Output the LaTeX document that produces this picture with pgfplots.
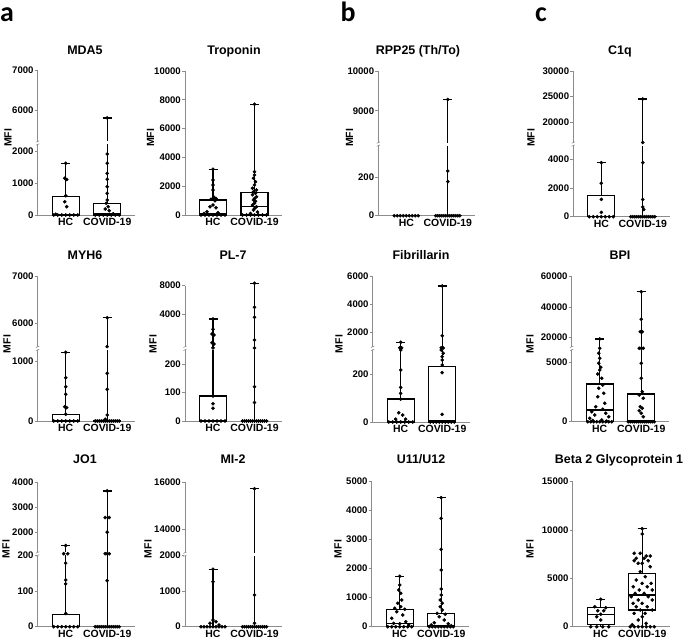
\documentclass[border=0pt]{standalone}
\usepackage{fontspec}
\setmainfont{Liberation Sans}
\newfontfamily\letterfont{Carlito}
\usepackage{pgfplots}
\pgfplotsset{compat=1.18}
\definecolor{axc}{gray}{0.55}

\def\pa{1}\def\pL{1}\def\pU{1}\def\pb{0}
\def\T{min(\thisrow{v},\pL)*\pa+max(\thisrow{v}-\pU,0)*\pb}

\pgfplotsset{
 panel/.style={x=1bp,y=1bp,xmin=0,xmax=97,ymin=0,
  axis x line=bottom, axis y line=left,
  axis line style={axc, line width=0.8bp, -},
  clip=false, anchor=south west,
  xtick={28,69.5}, xticklabels={HC,COVID-19},
  xtick style={draw=none},
  ytick style={axc, line width=0.8bp},
  tick align=outside, major tick length=3bp,
  yticklabel style={font=\bfseries\fontsize{9.6}{10}\selectfont, inner sep=1bp},
  xticklabel style={font=\bfseries\fontsize{10.5}{11}\selectfont, inner sep=1bp, yshift=1bp},
  scaled y ticks=false},
 bxl/.style={black, line width=1.3bp, mark=none, line join=miter},
}
\newcommand\seg[5]{\addplot[bxl] table[row sep=\\, x expr=\thisrow{x}+#1, y expr=\T] {x v\\ #2 #3\\ #4 #5\\};}
\newcommand\bx[6]{%
 \addplot[bxl] table[row sep=\\, x expr=\thisrow{x}+#1, y expr=\T] {x v\\ -13.5 #2\\ 13.5 #2\\ 13.5 #4\\ -13.5 #4\\ -13.5 #2\\ 13.5 #2\\};
 \seg{#1}{-13.5}{#3}{13.5}{#3}
 \seg{#1}{0}{#4}{0}{#6}
 \seg{#1}{-4.5}{#6}{4.5}{#6}
 \seg{#1}{0}{#5}{0}{#2}
}
\newcommand\pts[2]{\addplot[only marks, mark=*, mark size=1.6bp, black] table[row sep=\\, x expr=\thisrow{x}+#1, y expr=\T] {x v\\ #2};}
\newcommand\brk[1]{%
 \draw[white, line width=2.5bp] ([yshift=-1.4bp]axis cs:0,#1) -- ([yshift=1.4bp]axis cs:0,#1);
 \draw[axc, line width=0.6bp] ([xshift=-1.6bp,yshift=-2.2bp]axis cs:0,#1) -- ([xshift=1.6bp,yshift=-0.8bp]axis cs:0,#1)
   ([xshift=-1.6bp,yshift=0.8bp]axis cs:0,#1) -- ([xshift=1.6bp,yshift=2.2bp]axis cs:0,#1);}
\newcommand\wg[2]{\draw[white, line width=2.5bp] ([yshift=-1.5bp]axis cs:#1,#2) -- ([yshift=1.5bp]axis cs:#1,#2);}

\begin{document}
\begin{tikzpicture}
\path[use as bounding box] (0,0) rectangle (685bp,639bp);

% ---------------- MDA5
\def\pa{0.032}\def\pL{2250}\def\pU{5190}\def\pb{0.04}
\begin{axis}[panel, at={(37.7bp,424bp)}, ymax=144.4, ytick={0,32,64,104.4,144.4}, yticklabels={0,1000,2000,6000,7000}]
\bx{28}{0}{0}{572}{0}{1615}
\bx{69.5}{0}{30}{365}{0}{5817}
\brk{72}\wg{69.5}{72}
\pts{28}{0 1615\\ -1 1150\\ 1 1110\\ 0 600\\ -1 415\\ 1 260\\ -12 0\\ -8 0\\ -4 0\\ 0 0\\ 4 0\\ 8 0\\ 12 0\\ -10 25\\}
\pts{69.5}{0 5817\\ 0 1906\\ 0 1615\\ 0 1302\\ 0 1115\\ 0 885\\ 0 677\\ 0 469\\ -1 365\\ 1 260\\ -2 188\\ 2 135\\ -12 0\\ -8 0\\ -4 0\\ 0 0\\ 4 0\\ 8 0\\ 12 0\\ 6 40\\}
\end{axis}

% ---------------- Troponin
\def\pa{0.0144}\def\pL{1000000}\def\pU{1000000}\def\pb{0}
\begin{axis}[panel, at={(185bp,424bp)}, ymax=144, ytick={0,28.8,57.6,86.4,115.2,144}, yticklabels={0,2000,4000,6000,8000,10000}]
\bx{28}{0}{60}{1040}{0}{3170}
\bx{69.5}{0}{580}{1550}{0}{7690}
\pts{28}{0 3170\\ 0 2430\\ 0 2083\\ 0 1736\\ 1 1227\\ 3 1150\\ -2 1088\\ 2 995\\ 0 694\\ -3 579\\ 3 500\\ -6 231\\ 5 150\\ -9 100\\ -12 0\\ -8 0\\ -4 0\\ 0 0\\ 4 0\\ 8 0\\ 12 0\\}
\pts{69.5}{0 7690\\ 0 3009\\ 0 2778\\ -1 2546\\ 1 2315\\ 0 2083\\ -2 1852\\ 2 1736\\ -1 1620\\ 1 1505\\ -2 1400\\ 2 1273\\ 0 1150\\ -1 1042\\ 1 950\\ 0 810\\ -2 700\\ 2 579\\ 0 450\\ -1 347\\ 3 200\\ -4 100\\ -12 0\\ -8 0\\ -4 0\\ 0 0\\ 4 0\\ 8 0\\ 12 0\\}
\end{axis}

% ---------------- RPP25
\def\pa{0.1935}\def\pL{370}\def\pU{8160}\def\pb{0.0397}
\begin{axis}[panel, at={(378.3bp,423.3bp)}, ymax=144.6, ytick={0,38.7,104.9,144.6}, yticklabels={0,200,9000,10000}]
\bx{28}{0}{0}{0}{0}{0}
\bx{69.5}{0}{0}{0}{0}{9285}
\brk{71.6}\wg{69.5}{71.6}
\pts{28}{-12 0\\ -9 0\\ -6 0\\ -3 0\\ 0 0\\ 3 0\\ 6 0\\ 9 0\\ 12 0\\}
\pts{69.5}{0 9285\\ 0 231\\ 0 176\\ -12 0\\ -10 0\\ -8 0\\ -6 0\\ -4 0\\ -2 0\\ 0 0\\ 2 0\\ 4 0\\ 6 0\\ 8 0\\ 10 0\\ 12 0\\}
\end{axis}

% ---------------- C1q
\def\pa{0.01433}\def\pL{5070}\def\pU{15690}\def\pb{0.0051}
\begin{axis}[panel, at={(573.3bp,422.3bp)}, ymax=145.6, ytick={0,28.7,57.3,94.6,120.1,145.6}, yticklabels={0,2000,4000,20000,25000,30000}]
\bx{28}{0}{0}{1465}{0}{3770}
\bx{69.5}{0}{0}{30}{0}{24510}
\brk{72.65}\wg{69.5}{72.65}
\pts{28}{0 3770\\ 0 2330\\ 0 1210\\ 0 300\\ -12 0\\ -8 0\\ -4 0\\ 0 0\\ 4 0\\ 8 0\\ 12 0\\}
\pts{69.5}{0 24510\\ 0 16000\\ 0 3770\\ 0 1200\\ 0 680\\ 1 500\\ -12 0\\ -10 0\\ -8 0\\ -6 0\\ -4 0\\ -2 0\\ 0 0\\ 2 0\\ 4 0\\ 6 0\\ 8 0\\ 10 0\\ 12 0\\}
\end{axis}

% ---------------- MYH6
\def\pa{0.0593}\def\pL{1226}\def\pU{5464}\def\pb{0.0466}
\begin{axis}[panel, at={(37.7bp,218bp)}, ymax=144.3, ytick={0,59.3,97.7,144.3}, yticklabels={0,1000,6000,7000}]
\bx{28}{0}{0}{113}{0}{1158}
\bx{69.5}{0}{0}{10}{0}{6120}
\brk{72.7}\wg{69.5}{72.7}
\pts{28}{0 1158\\ 0 730\\ 0 578\\ 0 450\\ -1 241\\ 1 225\\ 0 113\\ -12 0\\ -8 0\\ -4 0\\ 0 0\\ 4 0\\ 8 0\\ 12 0\\}
\pts{69.5}{0 6120\\ 0 5500\\ 0 804\\ 0 534\\ 0 100\\ -2 30\\ -12 0\\ -10 0\\ -8 0\\ -6 0\\ -4 0\\ -2 0\\ 0 0\\ 2 0\\ 4 0\\ 6 0\\ 8 0\\ 10 0\\ 12 0\\}
\end{axis}

% ---------------- PL-7
\def\pa{0.283}\def\pL{257}\def\pU{257}\def\pb{0.009147}
\begin{axis}[panel, at={(185bp,218bp)}, ymax=135.3, ytick={0,28.3,56.6,107,135.3}, yticklabels={0,100,200,4000,8000}]
\bx{28}{0}{0}{88}{0}{3460}
\bx{69.5}{0}{0}{0}{0}{7363}
\brk{72.7}\wg{28}{72.7}\wg{69.5}{72.7}
\pts{28}{0 3460\\ 0 2334\\ -1 1820\\ 1 1700\\ -1 869\\ 1 727\\ 0 300\\ 0 88\\ 0 61\\ 0 45\\ -12 0\\ -8 0\\ -4 0\\ 0 0\\ 4 0\\ 8 0\\ 12 0\\}
\pts{69.5}{0 7363\\ 0 4739\\ 0 3646\\ 0 1164\\ 0 280\\ 0 121\\ 0 65\\ -12 0\\ -10 0\\ -8 0\\ -6 0\\ -4 0\\ -2 0\\ 0 0\\ 2 0\\ 4 0\\ 6 0\\ 8 0\\ 10 0\\ 12 0\\}
\end{axis}

% ---------------- Fibrillarin
\def\pa{0.2385}\def\pL{309}\def\pU{849}\def\pb{0.0139}
\begin{axis}[panel, at={(372.7bp,217bp)}, ymax=145.3, ytick={0,47.7,89.7,117.5,145.3}, yticklabels={0,200,2000,4000,6000}]
\bx{28}{0}{0}{96}{0}{1281}
\bx{69.5}{0}{4}{232}{0}{5331}
\brk{73.7}\wg{28}{73.7}\wg{69.5}{73.7}
\pts{28}{0 1281\\ -1 892\\ 1 880\\ 0 302\\ 0 218\\ 0 145\\ 0 120\\ 0 96\\ -2 39\\ 2 29\\ -5 12\\ 5 12\\ -12 0\\ -8 0\\ -4 0\\ 0 0\\ 4 0\\ 8 0\\ 12 0\\}
\pts{69.5}{0 5331\\ 0 1755\\ -1 892\\ 1 870\\ -1 302\\ 1 288\\ 0 274\\ 0 260\\ 0 239\\ 0 207\\ 0 32\\ -12 0\\ -9 0\\ -6 0\\ -3 0\\ 0 0\\ 3 0\\ 6 0\\ 9 0\\ 12 0\\}
\end{axis}

% ---------------- BPI
\def\pa{0.01188}\def\pL{6178}\def\pU{12739}\def\pb{0.001515}
\begin{axis}[panel, at={(571.7bp,217.3bp)}, ymax=145, ytick={0,59.4,84.4,114.7,145}, yticklabels={0,5000,20000,40000,60000}]
\bx{28}{0}{985}{3173}{0}{18878}
\bx{69.5}{0}{100}{2332}{0}{50099}
\brk{73.4}\wg{28}{73.4}\wg{69.5}{73.4}
\pts{28}{0 18878\\ 0 12800\\ -1 5758\\ 0 5337\\ -1 4916\\ 1 4579\\ 0 4352\\ -2 4015\\ 2 3653\\ 3 3089\\ -1 2811\\ 4 2391\\ -2 2104\\ 5 1549\\ -4 1263\\ 3 1044\\ -8 842\\ 6 707\\ -5 564\\ 9 421\\ -10 286\\ 2 143\\ -7 100\\ 7 50\\ -12 0\\ -9 0\\ -6 0\\ -3 0\\ 0 0\\ 3 0\\ 6 0\\ 9 0\\ 12 0\\}
\pts{69.5}{0 50099\\ 0 31900\\ -1 23700\\ 1 23700\\ -2 12800\\ 0 12800\\ 2 12800\\ 0 4916\\ 0 3653\\ 1 2525\\ -2 2247\\ 2 1970\\ -1 1263\\ 1 1128\\ -2 926\\ 0 707\\ 2 421\\ -13 0\\ -11 0\\ -9 0\\ -7 0\\ -5 0\\ -3 0\\ -1 0\\ 1 0\\ 3 0\\ 5 0\\ 7 0\\ 9 0\\ 11 0\\ 13 0\\}
\end{axis}

% ---------------- JO1
\def\pa{0.357}\def\pL{204}\def\pU{1132}\def\pb{0.025}
\begin{axis}[panel, at={(37.7bp,12.3bp)}, ymax=144.5, ytick={0,35.7,71.4,94.5,119.5,144.5}, yticklabels={0,100,200,2000,3000,4000}]
\bx{28}{0}{0}{35}{0}{1464}
\bx{69.5}{0}{0}{0}{0}{3652}
\brk{72.8}\wg{28}{72.8}\wg{69.5}{72.8}
\pts{28}{0 1464\\ -2 1140\\ 2 1135\\ 0 178\\ 0 131\\ 0 120\\ 0 37\\ -12 0\\ -8 0\\ -4 0\\ 0 0\\ 4 0\\ 8 0\\ 12 0\\}
\pts{69.5}{0 3652\\ -2 2584\\ 2 2584\\ 0 2000\\ -2 1140\\ 0 1140\\ 2 1135\\ 0 129\\ -12 0\\ -10 0\\ -8 0\\ -6 0\\ -4 0\\ -2 0\\ 0 0\\ 2 0\\ 4 0\\ 6 0\\ 8 0\\ 10 0\\ 12 0\\}
\end{axis}

% ---------------- MI-2
\def\pa{0.0357}\def\pL{2030}\def\pU{12900}\def\pb{0.0235}
\begin{axis}[panel, at={(185bp,12.3bp)}, ymax=144.3, ytick={0,35.7,71.4,97.4,144.3}, yticklabels={0,1000,2000,14000,16000}]
\bx{28}{0}{0}{10}{0}{1608}
\bx{69.5}{0}{0}{0}{0}{15687}
\brk{72.5}\wg{69.5}{72.5}
\pts{28}{0 1608\\ 0 1260\\ 0 188\\ 3 140\\ -3 95\\ 6 50\\ -12 0\\ -9 0\\ -6 0\\ -3 0\\ 0 0\\ 3 0\\ 6 0\\ 9 0\\ 12 0\\}
\pts{69.5}{0 15687\\ 0 888\\ 0 95\\ -12 0\\ -10 0\\ -8 0\\ -6 0\\ -4 0\\ -2 0\\ 0 0\\ 2 0\\ 4 0\\ 6 0\\ 8 0\\ 10 0\\ 12 0\\}
\end{axis}

% ---------------- U11/U12
\def\pa{0.029}\def\pL{1000000}\def\pU{1000000}\def\pb{0}
\begin{axis}[panel, at={(371.7bp,12.3bp)}, ymax=145, ytick={0,29,58,87,116,145}, yticklabels={0,1000,2000,3000,4000,5000}]
\bx{28}{0}{100}{600}{0}{1738}
\bx{69.5}{0}{50}{460}{0}{4450}
\pts{28}{0 1738\\ 0 1437\\ -1 1264\\ 1 1152\\ 2 920\\ -2 807\\ 1 690\\ -5 635\\ 5 600\\ -3 517\\ 3 402\\ -8 289\\ 6 172\\ -6 115\\ 9 57\\ 0 100\\ -12 0\\ -8 0\\ -4 0\\ 0 0\\ 4 0\\ 8 0\\ 12 0\\}
\pts{69.5}{0 4450\\ 0 3736\\ 0 2667\\ 0 1954\\ 0 1299\\ 0 1092\\ -1 920\\ 1 807\\ -1 690\\ 1 575\\ -4 460\\ 4 430\\ -2 345\\ 3 230\\ -7 138\\ 7 100\\ -10 57\\ 10 30\\ -12 0\\ -9 0\\ -6 0\\ -3 0\\ 0 0\\ 3 0\\ 6 0\\ 9 0\\ 12 0\\}
\end{axis}

% ---------------- Beta 2 Glycoprotein 1
\def\pa{0.00967}\def\pL{1000000}\def\pU{1000000}\def\pb{0}
\begin{axis}[panel, at={(572.7bp,12.3bp)}, ymax=145, ytick={0,48.35,96.7,145}, yticklabels={0,5000,10000,15000}]
\bx{28}{250}{1283}{1966}{0}{2833}
\bx{69.5}{1727}{3279}{5522}{0}{10138}
\pts{28}{0 2833\\ -6 2068\\ 5 1966\\ -3 1655\\ 3 1655\\ 0 1283\\ -4 1034\\ 0 690\\ -10 0\\ -4 0\\ 2 0\\ 8 0\\}
\pts{69.5}{0 10138\\ 0 9587\\ -8 7587\\ -2 7587\\ 4 7311\\ 8 7311\\ -6 7070\\ 2 7070\\ -8 6829\\ 6 6829\\ 0 6553\\ -4 6553\\ 8 6208\\ -2 5690\\ 3 5172\\ -6 4827\\ 0 4482\\ 9 4482\\ -9 4137\\ 5 4137\\ -3 3792\\ 10 3792\\ -7 3448\\ 2 3448\\ -11 3103\\ 6 3103\\ -4 2758\\ 10 2758\\ 0 2413\\ -9 2413\\ 5 2068\\ -6 2068\\ 10 1724\\ -2 1724\\ 3 1379\\ -8 1379\\ 0 1034\\ -4 690\\ 4 345\\ -12 0\\ -8 0\\ -4 0\\ 0 0\\ 4 0\\ 8 0\\ 12 0\\ -10 200\\}
\end{axis}

% ---------------- texts
\begin{scope}[every node/.style={font=\bfseries\fontsize{12.5}{13}\selectfont, anchor=base}]
\node at (85bp,584bp) {MDA5};
\node at (234bp,584bp) {Troponin};
\node at (418bp,584bp) {RPP25 (Th/To)};
\node at (620bp,584bp) {C1q};
\node at (85bp,379.5bp) {MYH6};
\node at (233bp,379.5bp) {PL-7};
\node at (421bp,379.5bp) {Fibrillarin};
\node at (620bp,379.5bp) {BPI};
\node at (85bp,175bp) {JO1};
\node at (233bp,175bp) {MI-2};
\node at (421bp,175bp) {U11/U12};
\node at (619bp,175bp) {Beta 2 Glycoprotein 1};
\end{scope}
\begin{scope}[every node/.style={font=\bfseries\fontsize{10.5}{11}\selectfont, rotate=90}]
\node at (8bp,501bp) {MFI};
\node at (150.5bp,501bp) {MFI};
\node at (349.5bp,501bp) {MFI};
\node at (531bp,501bp) {MFI};
\node at (7bp,295bp) {MFI};
\node at (153bp,295bp) {MFI};
\node at (339bp,295bp) {MFI};
\node at (530bp,295bp) {MFI};
\node at (6bp,90bp) {MFI};
\node at (148bp,90bp) {MFI};
\node at (338bp,90bp) {MFI};
\node at (530bp,90bp) {MFI};
\end{scope}
\begin{scope}[every node/.style={font=\letterfont\bfseries\fontsize{28}{30}\selectfont, anchor=base}]
\node at (7bp,617bp) {a};
\node at (348bp,617bp) {b};
\node at (541bp,617bp) {c};
\end{scope}
\end{tikzpicture}
\end{document}
